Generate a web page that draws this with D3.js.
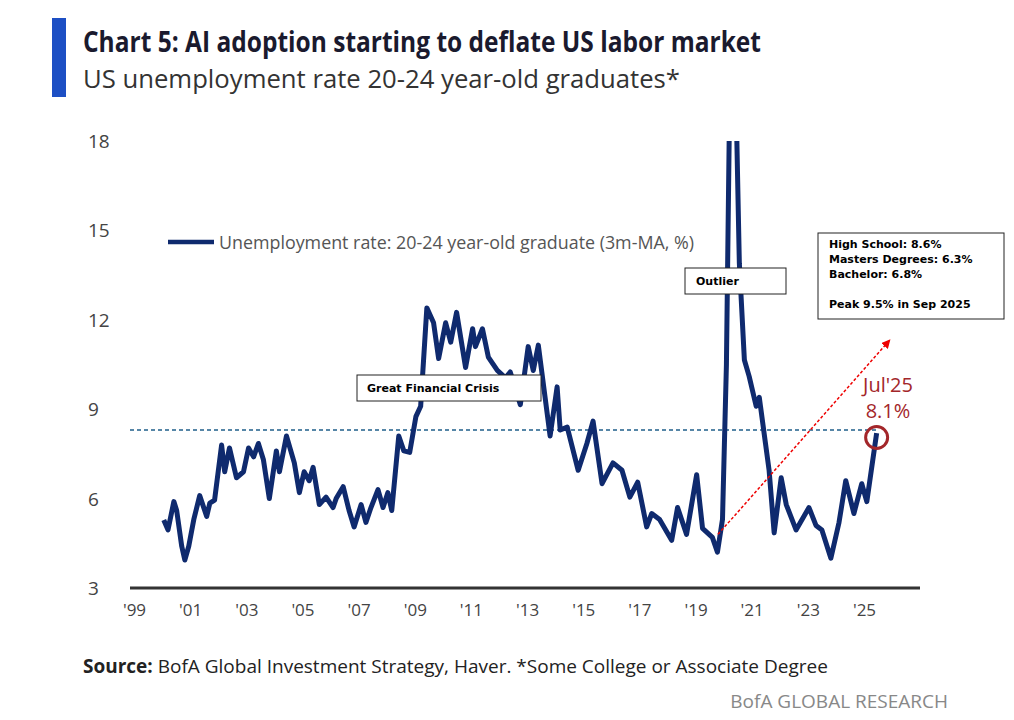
<!DOCTYPE html>
<html><head><meta charset="utf-8">
<script src="https://cdn.jsdelivr.net/npm/d3@7"></script>
<style>body{margin:0;background:#fff}svg{font-family:"Open Sans",sans-serif}</style>
</head><body><svg id="c" width="1014" height="720"></svg>
<script>
const years = [2000.06,2000.21,2000.42,2000.52,2000.70,2000.81,2000.95,2001.13,2001.34,2001.59,2001.70,2001.87,2002.12,2002.23,2002.40,2002.65,2002.90,2003.08,2003.26,2003.43,2003.61,2003.82,2004.07,2004.18,2004.43,2004.71,2004.89,2005.06,2005.24,2005.38,2005.60,2005.84,2006.09,2006.20,2006.45,2006.66,2006.84,2007.09,2007.26,2007.44,2007.69,2007.87,2008.04,2008.18,2008.43,2008.61,2008.82,2009.04,2009.21,2009.43,2009.67,2009.85,2010.10,2010.28,2010.49,2010.81,2011.06,2011.16,2011.41,2011.62,2011.94,2012.23,2012.40,2012.76,2013.04,2013.22,2013.40,2013.82,2014.07,2014.18,2014.43,2014.82,2015.13,2015.35,2015.67,2016.06,2016.38,2016.66,2016.94,2017.26,2017.44,2017.72,2018.15,2018.36,2018.68,2019.04,2019.25,2019.60,2019.78,2019.96,2020.10,2020.21,2020.45,2020.56,2020.74,2020.91,2021.16,2021.27,2021.62,2021.80,2022.05,2022.23,2022.58,2023.04,2023.29,2023.50,2023.82,2024.11,2024.35,2024.64,2024.92,2025.10,2025.45];
const rates = [5.28,4.95,5.9,5.6,4.4,3.94,4.4,5.3,6.1,5.4,5.85,5.95,7.8,6.9,7.7,6.7,6.9,7.7,7.4,7.85,7.3,6.0,7.6,6.9,8.1,7.2,6.2,6.9,6.6,7.05,5.8,6.05,5.7,6.0,6.4,5.6,5.05,5.8,5.2,5.7,6.3,5.7,6.2,5.6,8.1,7.6,7.55,8.75,9.1,12.4,11.9,10.7,11.9,11.25,12.25,10.4,11.7,11.1,11.7,10.75,10.3,10.05,10.25,9.15,11.1,10.3,11.15,8.1,9.75,8.3,8.4,6.95,7.85,8.6,6.5,7.2,6.95,6.05,6.55,5.05,5.5,5.3,4.6,5.7,4.8,6.8,5.0,4.7,4.2,5.3,10.5,19,19,13.9,10.65,10.1,9.1,9.4,6.95,4.85,6.7,5.8,4.95,5.7,5.1,4.95,4.0,5.2,6.6,5.5,6.5,5.9,8.2];
const yTicks = [3,6,9,12,15,18];
const xTickYears = [1999,2001,2003,2005,2007,2009,2011,2013,2015,2017,2019,2021,2023,2025];
const refLevel = 8.3;
const infoLines = ["High School: 8.6%","Masters Degrees: 6.3%","Bachelor: 6.8%","","Peak 9.5% in Sep 2025"];

const svg = d3.select("#c");
const x = d3.scaleLinear().domain([1999,2025]).range([134,864]);
const y = d3.scaleLinear().domain([3,18]).range([588,141]);

svg.append("rect").attr("x",52).attr("y",18).attr("width",14).attr("height",79).attr("fill","#1d4fc4");
svg.append("text").attr("x",83).attr("y",52).attr("font-size",28).attr("font-weight","bold").attr("fill","#1a1a2e")
  .attr("textLength",678).attr("lengthAdjust","spacingAndGlyphs").text("Chart 5: AI adoption starting to deflate US labor market");
svg.append("text").attr("x",83).attr("y",88).attr("font-size",26).attr("fill","#333")
  .attr("textLength",597).attr("lengthAdjust","spacingAndGlyphs").text("US unemployment rate 20-24 year-old graduates*");

svg.append("g").selectAll("text").data(yTicks).join("text")
  .attr("x",88).attr("y",d=>y(d)+7).attr("font-size",19).attr("fill","#444").text(d=>d);
const xa = svg.append("g").attr("transform","translate(0,588)")
  .call(d3.axisBottom(x).tickValues(xTickYears).tickSize(0).tickPadding(16).tickFormat(d=>"'"+String(d).slice(2)));
xa.select(".domain").remove();
xa.selectAll("text").attr("font-size",17).attr("fill","#444").attr("font-family","Open Sans");
svg.append("line").attr("x1",130).attr("x2",920).attr("y1",588).attr("y2",588).attr("stroke","#333").attr("stroke-width",3);

svg.append("line").attr("x1",130).attr("x2",x(2025.45)).attr("y1",y(refLevel)).attr("y2",y(refLevel))
  .attr("stroke","#1f5f8b").attr("stroke-width",1.5).attr("stroke-dasharray","4,3");

svg.append("clipPath").attr("id","cp").append("rect").attr("x",100).attr("y",141).attr("width",850).attr("height",460);
const data = years.map((t,i)=>[t,rates[i]]);
svg.append("path").datum(data).attr("clip-path","url(#cp)")
  .attr("d",d3.line().x(d=>x(d[0])).y(d=>y(d[1])))
  .attr("fill","none").attr("stroke","#0f2a6e").attr("stroke-width",5).attr("stroke-linejoin","round");

svg.append("line").attr("x1",168).attr("x2",214).attr("y1",242).attr("y2",242).attr("stroke","#0f2a6e").attr("stroke-width",4.5);
svg.append("text").attr("x",219).attr("y",249).attr("font-size",18).attr("fill","#555")
  .attr("textLength",475).attr("lengthAdjust","spacingAndGlyphs").text("Unemployment rate: 20-24 year-old graduate (3m-MA, %)");

function box(x0,y0,w,h){svg.append("rect").attr("x",x0).attr("y",y0).attr("width",w).attr("height",h).attr("fill","#fff").attr("stroke","#222").attr("stroke-width",1);}
box(357,375,184,26);
svg.append("text").attr("x",367).attr("y",392).attr("font-size",11).attr("font-weight","bold").attr("font-family","DejaVu Sans").text("Great Financial Crisis");
box(685,268,101,26);
svg.append("text").attr("x",696).attr("y",285).attr("font-size",11).attr("font-weight","bold").attr("font-family","DejaVu Sans").text("Outlier");
box(818,233,186,86);
svg.append("g").selectAll("text").data(infoLines).join("text")
  .attr("x",829).attr("y",(d,i)=>248+i*15).attr("font-size",11).attr("font-weight","bold").attr("font-family","DejaVu Sans").text(d=>d);

svg.append("defs").append("marker").attr("id","ah").attr("viewBox","0 0 10 10").attr("refX",8).attr("refY",5)
  .attr("markerWidth",6).attr("markerHeight",6).attr("orient","auto").append("path").attr("d","M0,0L10,5L0,10z").attr("fill","#e00");
svg.append("line").attr("x1",x(2019.8)).attr("y1",y(4.8)).attr("x2",x(2025.9)).attr("y2",y(11.3))
  .attr("stroke","#e00").attr("stroke-width",1.5).attr("stroke-dasharray","3,2").attr("marker-end","url(#ah)");

svg.append("circle").attr("cx",x(2025.45)).attr("cy",y(8.05)).attr("r",11).attr("fill","none").attr("stroke","#a3262a").attr("stroke-width",3);
svg.append("text").attr("x",888).attr("y",392).attr("text-anchor","middle").attr("font-size",20).attr("fill","#a3262a").text("Jul'25");
svg.append("text").attr("x",888).attr("y",418).attr("text-anchor","middle").attr("font-size",20).attr("fill","#a3262a").text("8.1%");

const src = svg.append("text").attr("x",83).attr("y",673).attr("font-size",19).attr("fill","#222");
src.append("tspan").attr("font-weight","bold").text("Source:");
src.append("tspan").text(" BofA Global Investment Strategy, Haver. *Some College or Associate Degree");
svg.append("text").attr("x",948).attr("y",708).attr("text-anchor","end").attr("font-size",19).attr("fill","#888").text("BofA GLOBAL RESEARCH");
</script></body></html>
